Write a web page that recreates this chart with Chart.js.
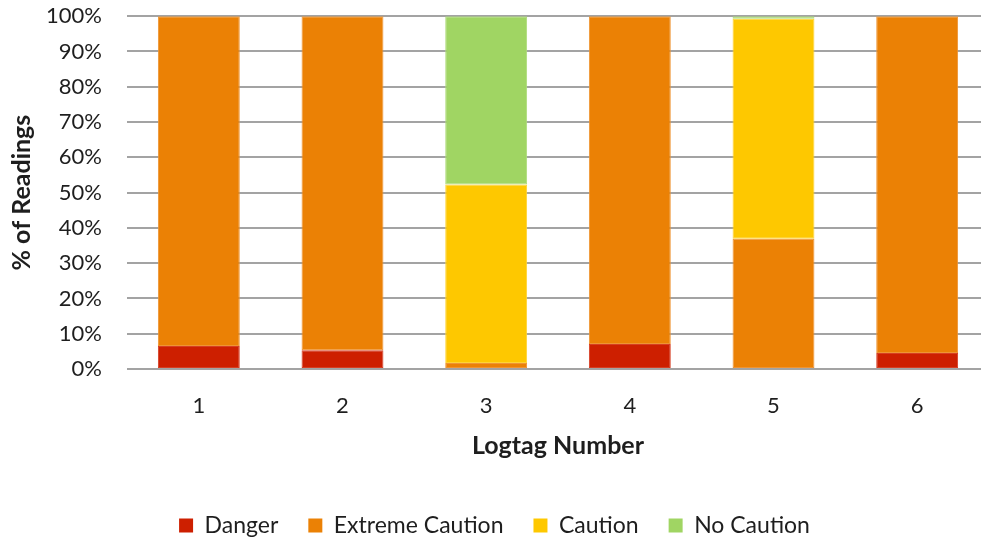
<!DOCTYPE html>
<html>
<head>
<meta charset="utf-8">
<script src="https://cdn.jsdelivr.net/npm/chart.js@4/dist/chart.umd.min.js"></script>
<style>
  html, body { margin: 0; padding: 0; background: #fff; overflow: hidden; }
  #wrap { width: 990px; height: 540px; overflow: hidden; }
  #chart { display: block; margin-top: -22px; }
</style>
</head>
<body>
<div id="wrap"><canvas id="chart" width="990" height="569"></canvas></div>
<script>
// Logtag heat-stress readings, share of readings per category (%)
const logtags = ['1', '2', '3', '4', '5', '6'];
const danger = [6.5, 5.3, 0, 7.1, 0, 4.5];
const extremeCaution = [93.5, 94.7, 1.7, 92.9, 36.9, 95.5];
const caution = [0, 0, 50.6, 0, 62.4, 0];
const noCaution = [0, 0, 47.7, 0, 0.7, 0];
const yTicks = [0, 10, 20, 30, 40, 50, 60, 70, 80, 90, 100];

const FONT = "Lato, 'Open Sans', sans-serif";
const TEXT = '#1e1e1e';

// each segment gets a thin, slightly lighter edge of its own colour
function series(label, data, color, edge) {
  return {
    label, data,
    backgroundColor: color,
    borderColor: edge,
    borderWidth: 1,
    borderSkipped: false,
    barPercentage: 0.57,
    categoryPercentage: 1.0
  };
}

new Chart(document.getElementById('chart'), {
  type: 'bar',
  data: {
    labels: logtags,
    datasets: [
      series('Danger', danger, '#CD1F00', '#D63E22'),
      series('Extreme Caution', extremeCaution, '#EB8105', '#EF9433'),
      series('Caution', caution, '#FEC800', '#FED435'),
      series('No Caution', noCaution, '#A0D563', '#ADDB7A')
    ]
  },
  options: {
    responsive: false,
    animation: false,
    layout: { padding: { top: 0, right: 1, left: 0, bottom: 0 } },
    plugins: {
      tooltip: { enabled: false },
      legend: {
        position: 'bottom',
        labels: {
          font: { family: FONT, size: 23 },
          color: TEXT,
          boxWidth: 14,
          boxHeight: 14,
          padding: 30,
          generateLabels: (chart) => chart.data.datasets.map((ds, i) => ({
            text: ds.label,
            fillStyle: ds.backgroundColor,
            strokeStyle: ds.backgroundColor,
            lineWidth: 0,
            fontColor: TEXT,
            hidden: !chart.isDatasetVisible(i),
            datasetIndex: i
          }))
        }
      }
    },
    scales: {
      x: {
        stacked: true,
        afterFit: (axis) => { axis.height = 115; },
        grid: { display: false, drawTicks: false },
        border: { display: false },
        ticks: { font: { family: FONT, size: 22 }, color: TEXT, padding: 24 },
        title: {
          display: true,
          text: 'Logtag Number',
          font: { family: FONT, size: 25, weight: 'bold' },
          color: TEXT,
          padding: { top: 0, bottom: 23 }
        }
      },
      y: {
        stacked: true,
        min: 0,
        max: 100,
        afterBuildTicks: (axis) => { axis.ticks = yTicks.map(v => ({ value: v })); },
        afterFit: (axis) => { axis.width = 127; },
        grid: { color: '#a3a3a3', lineWidth: 2, drawTicks: false },
        border: { display: false },
        ticks: {
          font: { family: FONT, size: 22 },
          color: TEXT,
          padding: 25,
          callback: (v) => v + '%'
        },
        title: {
          display: true,
          text: '% of Readings',
          font: { family: FONT, size: 25, weight: 'bold' },
          color: TEXT,
          padding: { top: 7, bottom: 0 }
        }
      }
    }
  }
});
</script>
</body>
</html>
